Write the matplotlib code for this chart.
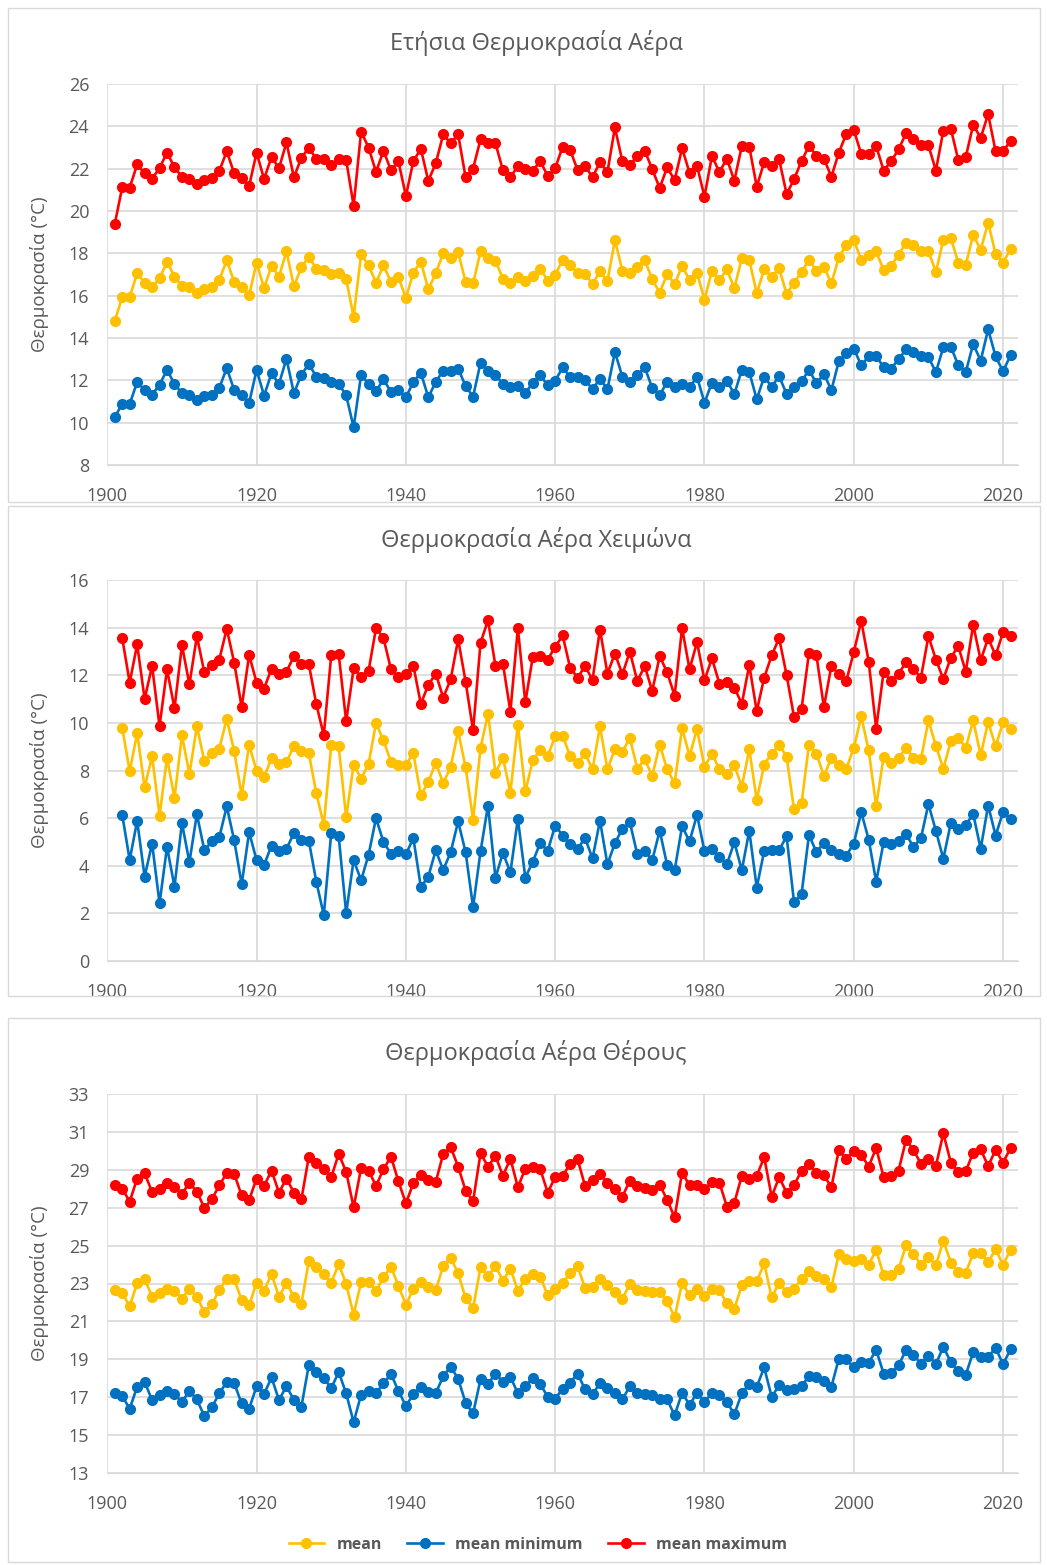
import numpy as np
import matplotlib
matplotlib.use("Agg")
import matplotlib.pyplot as plt
from matplotlib.patches import Rectangle
from matplotlib.lines import Line2D

plt.rcParams["font.family"] = ["Open Sans", "DejaVu Sans"]

# years on the x axis
years = np.arange(1901, 2022)
winter_years = np.arange(1902, 2022)

# annual air temperature (°C)
annual_max = [
    19.39, 21.12, 21.1, 22.2, 21.78, 21.53, 22.03, 22.76, 22.06, 21.62,
    21.53, 21.28, 21.46, 21.56, 21.89, 22.82, 21.78, 21.57, 21.18, 22.76,
    21.51, 22.55, 22.02, 23.24, 21.59, 22.52, 22.98, 22.46, 22.46, 22.17,
    22.44, 22.41, 20.24, 23.75, 23.0, 21.84, 22.85, 21.92, 22.35, 20.71,
    22.35, 22.94, 21.43, 22.25, 23.62, 23.2, 23.62, 21.59, 22.0, 23.39,
    23.2, 23.2, 21.92, 21.59, 22.13, 21.97, 21.91, 22.36, 21.65, 22.02,
    23.04, 22.88, 21.94, 22.13, 21.59, 22.31, 21.84, 23.95, 22.35, 22.16,
    22.6, 22.85, 21.97, 21.09, 22.06, 21.46, 22.96, 21.81, 22.13, 20.68,
    22.6, 21.84, 22.47, 21.43, 23.07, 23.04, 21.15, 22.31, 22.13, 22.44,
    20.8, 21.5, 22.36, 23.07, 22.6, 22.47, 21.62, 22.76, 23.64, 23.83,
    22.69, 22.69, 23.07, 21.91, 22.35, 22.91, 23.67, 23.42, 23.1, 23.1,
    21.91, 23.8, 23.89, 22.41, 22.54, 24.08, 23.45, 24.58, 22.82, 22.82,
    23.32,
]
annual_mean = [
    14.79, 15.95, 15.94, 17.06, 16.61, 16.39, 16.83, 17.59, 16.9, 16.46,
    16.39, 16.11, 16.3, 16.39, 16.74, 17.67, 16.65, 16.43, 16.03, 17.56,
    16.36, 17.4, 16.9, 18.09, 16.44, 17.34, 17.84, 17.28, 17.21, 17.02,
    17.09, 16.77, 15.01, 17.95, 17.43, 16.61, 17.43, 16.65, 16.87, 15.89,
    17.09, 17.61, 16.3, 17.06, 18.0, 17.76, 18.05, 16.65, 16.58, 18.09,
    17.76, 17.65, 16.8, 16.58, 16.9, 16.68, 16.93, 17.28, 16.71, 16.99,
    17.69, 17.43, 17.06, 17.02, 16.55, 17.15, 16.68, 18.63, 17.18, 17.06,
    17.37, 17.69, 16.77, 16.14, 17.02, 16.55, 17.4, 16.74, 17.09, 15.8,
    17.18, 16.74, 17.24, 16.36, 17.76, 17.69, 16.11, 17.24, 16.9, 17.29,
    16.08, 16.61, 17.12, 17.69, 17.18, 17.37, 16.58, 17.81, 18.41, 18.63,
    17.69, 17.94, 18.09, 17.21, 17.4, 17.94, 18.5, 18.38, 18.09, 18.09,
    17.12, 18.63, 18.72, 17.56, 17.46, 18.88, 18.16, 19.45, 17.97, 17.56,
    18.22,
]
annual_min = [
    10.27, 10.88, 10.88, 11.92, 11.54, 11.31, 11.8, 12.49, 11.83, 11.39,
    11.29, 11.07, 11.26, 11.32, 11.64, 12.58, 11.54, 11.32, 10.94, 12.49,
    11.28, 12.33, 11.83, 13.02, 11.39, 12.27, 12.77, 12.17, 12.13, 11.92,
    11.83, 11.29, 9.78, 12.27, 11.83, 11.48, 12.05, 11.45, 11.54, 11.2,
    11.92, 12.36, 11.2, 11.92, 12.46, 12.46, 12.55, 11.73, 11.23, 12.83,
    12.46, 12.25, 11.83, 11.67, 11.73, 11.39, 11.89, 12.24, 11.76, 11.98,
    12.61, 12.17, 12.14, 12.02, 11.58, 12.08, 11.58, 13.34, 12.17, 11.94,
    12.25, 12.61, 11.64, 11.29, 11.94, 11.67, 11.83, 11.67, 12.17, 10.94,
    11.89, 11.67, 11.98, 11.35, 12.49, 12.39, 11.1, 12.17, 11.7, 12.2,
    11.35, 11.7, 11.95, 12.49, 11.86, 12.3, 11.54, 12.9, 13.28, 13.5,
    12.71, 13.13, 13.16, 12.61, 12.55, 13.0, 13.46, 13.34, 13.16, 13.09,
    12.39, 13.56, 13.59, 12.71, 12.39, 13.72, 12.93, 14.41, 13.13, 12.43,
    13.18,
]

# winter air temperature (°C), 1902-2021
winter_max = [
    13.56, 11.69, 13.3, 11.0, 12.39, 9.86, 12.25, 10.61, 13.26, 11.62,
    13.64, 12.12, 12.43, 12.66, 13.95, 12.53, 10.66, 12.85, 11.69, 11.44,
    12.28, 12.04, 12.15, 12.8, 12.49, 12.46, 10.78, 9.48, 12.84,
    12.88, 10.07, 12.29, 11.93, 12.18, 13.98, 13.56, 12.25, 11.93, 12.04,
    12.4, 10.8, 11.59, 12.07, 11.06, 11.83, 13.51, 11.73, 9.68, 13.36,
    14.31, 12.39, 12.49, 10.47, 13.98, 10.86, 12.77, 12.8, 12.66, 13.19,
    13.67, 12.32, 11.9, 12.38, 11.81, 13.92, 12.07, 12.91, 12.04, 12.99,
    11.76, 12.38, 11.34, 12.8, 12.12, 11.14, 13.98, 12.25, 13.39, 11.79,
    12.71, 11.65, 11.73, 11.48, 10.8, 12.43, 10.49, 11.9, 12.83, 13.56,
    12.01, 10.24, 10.58, 12.94, 12.83, 10.66, 12.4, 12.04, 11.76, 12.97,
    14.29, 12.57, 9.76, 12.15, 11.76, 12.07, 12.54, 12.26, 11.9, 13.64,
    12.66, 11.84, 12.74, 13.22, 12.15, 14.12, 12.63, 13.56, 12.83, 13.81,
    13.64,
]
winter_mean = [
    9.79, 7.97, 9.57, 7.29, 8.6, 6.11, 8.53, 6.84, 9.48, 7.85,
    9.86, 8.39, 8.72, 8.92, 10.17, 8.81, 6.96, 9.09, 7.97, 7.71,
    8.53, 8.28, 8.36, 9.02, 8.81, 8.72, 7.04, 5.72, 9.06,
    9.01, 6.03, 8.25, 7.66, 8.28, 9.99, 9.26, 8.36, 8.25, 8.25,
    8.72, 6.96, 7.52, 8.33, 7.46, 8.16, 9.65, 8.13, 5.94, 8.95,
    10.38, 7.91, 8.53, 7.07, 9.93, 7.12, 8.42, 8.87, 8.61, 9.43,
    9.46, 8.6, 8.3, 8.72, 8.05, 9.85, 8.05, 8.89, 8.78, 9.37,
    8.08, 8.47, 7.77, 9.09, 8.05, 7.46, 9.79, 8.61, 9.74, 8.16,
    8.7, 8.05, 7.85, 8.22, 7.32, 8.89, 6.76, 8.25, 8.7, 9.09,
    8.58, 6.37, 6.62, 9.09, 8.7, 7.77, 8.53, 8.25, 8.08, 8.95,
    10.27, 8.84, 6.51, 8.58, 8.3, 8.53, 8.95, 8.53, 8.47, 10.1,
    9.03, 8.08, 9.23, 9.37, 8.95, 10.1, 8.64, 10.04, 9.01, 10.02,
    9.76,
]
winter_min = [
    6.14, 4.24, 5.89, 3.54, 4.93, 2.42, 4.79, 3.12, 5.79, 4.15,
    6.17, 4.65, 5.02, 5.19, 6.49, 5.07, 3.22, 5.41, 4.23, 4.03,
    4.85, 4.62, 4.71, 5.37, 5.07, 5.04, 3.33, 1.93, 5.37,
    5.23, 2.01, 4.24, 3.39, 4.46, 6.0, 4.99, 4.51, 4.62, 4.48,
    5.16, 3.11, 3.54, 4.65, 3.82, 4.57, 5.86, 4.57, 2.26, 4.6,
    6.53, 3.5, 4.54, 3.72, 5.97, 3.5, 4.17, 4.96, 4.62, 5.69,
    5.27, 4.9, 4.71, 5.16, 4.31, 5.89, 4.06, 4.95, 5.55, 5.83,
    4.48, 4.62, 4.23, 5.47, 4.03, 3.81, 5.66, 5.02, 6.14, 4.62,
    4.71, 4.37, 4.06, 4.99, 3.81, 5.47, 3.08, 4.62, 4.68, 4.65,
    5.24, 2.46, 2.8, 5.3, 4.57, 4.96, 4.68, 4.51, 4.43, 4.93,
    6.25, 5.1, 3.33, 4.99, 4.93, 5.04, 5.33, 4.79, 5.16, 6.59,
    5.47, 4.29, 5.8, 5.55, 5.72, 6.17, 4.71, 6.53, 5.27, 6.25,
    5.97,
]

# summer air temperature (°C)
summer_max = [
    28.18, 28.01, 27.32, 28.54, 28.82, 27.83, 28.01, 28.29, 28.11, 27.73,
    28.32, 27.85, 26.99, 27.44, 28.18, 28.82, 28.78, 27.65, 27.41, 28.54,
    28.15, 28.96, 27.8, 28.54, 27.8, 27.44, 29.7, 29.35, 29.06, 28.61,
    29.84, 28.89, 27.02, 29.1, 28.96, 28.15, 29.03, 29.7, 28.39, 27.23,
    28.29, 28.75, 28.46, 28.36, 29.84, 30.19, 29.17, 27.9, 27.34, 29.87,
    29.17, 29.73, 28.68, 29.59, 28.08, 29.06, 29.13, 29.03, 27.8, 28.61,
    28.68, 29.31, 29.56, 28.15, 28.46, 28.78, 28.32, 27.97, 27.58, 28.43,
    28.15, 28.04, 27.94, 28.22, 27.41, 26.49, 28.85, 28.18, 28.18, 27.97,
    28.36, 28.32, 27.06, 27.27, 28.68, 28.54, 28.68, 29.66, 27.58, 28.61,
    27.8, 28.18, 28.96, 29.31, 28.82, 28.71, 28.08, 30.05, 29.59, 29.98,
    29.8, 29.17, 30.15, 28.61, 28.68, 28.96, 30.58, 30.05, 29.31, 29.59,
    29.2, 30.93, 29.38, 28.89, 28.92, 29.91, 30.08, 29.2, 30.05, 29.38,
    30.15,
]
summer_mean = [
    22.65, 22.48, 21.81, 23.01, 23.25, 22.3, 22.51, 22.73, 22.62, 22.2,
    22.73, 22.3, 21.49, 21.92, 22.65, 23.25, 23.22, 22.13, 21.85, 23.04,
    22.62, 23.5, 22.3, 23.04, 22.3, 21.92, 24.2, 23.85, 23.5, 23.04,
    24.03, 22.97, 21.35, 23.08, 23.08, 22.62, 23.32, 23.89, 22.87, 21.88,
    22.73, 23.08, 22.83, 22.65, 23.92, 24.35, 23.54, 22.23, 21.7, 23.85,
    23.39, 23.92, 23.15, 23.78, 22.62, 23.25, 23.5, 23.36, 22.37, 22.73,
    23.04, 23.54, 23.92, 22.76, 22.8, 23.22, 22.9, 22.55, 22.2, 22.97,
    22.65, 22.62, 22.55, 22.55, 22.09, 21.21, 23.04, 22.37, 22.73, 22.34,
    22.73, 22.65, 21.95, 21.67, 22.9, 23.11, 23.11, 24.06, 22.27, 23.04,
    22.55, 22.73, 23.22, 23.68, 23.39, 23.25, 22.8, 24.56, 24.27, 24.2,
    24.27, 23.99, 24.77, 23.43, 23.46, 23.78, 25.01, 24.56, 23.99, 24.42,
    23.96, 25.26, 24.1, 23.61, 23.57, 24.59, 24.63, 24.13, 24.8, 23.99,
    24.77,
]
summer_min = [
    17.2, 17.06, 16.39, 17.55, 17.8, 16.85, 17.09, 17.34, 17.16, 16.74,
    17.34, 16.88, 16.0, 16.46, 17.2, 17.8, 17.73, 16.67, 16.39, 17.58,
    17.16, 18.04, 16.85, 17.58, 16.85, 16.49, 18.71, 18.32, 18.01, 17.48,
    18.32, 17.2, 15.68, 17.13, 17.34, 17.2, 17.73, 18.22, 17.34, 16.53,
    17.16, 17.55, 17.3, 17.2, 18.11, 18.61, 17.97, 16.7, 16.14, 17.94,
    17.69, 18.25, 17.8, 18.08, 17.2, 17.58, 18.01, 17.69, 17.02, 16.92,
    17.44, 17.76, 18.25, 17.41, 17.16, 17.73, 17.51, 17.2, 16.88, 17.58,
    17.2, 17.16, 17.13, 16.88, 16.88, 16.04, 17.23, 16.6, 17.23, 16.74,
    17.23, 17.09, 16.74, 16.11, 17.2, 17.69, 17.55, 18.57, 17.02, 17.62,
    17.37, 17.41, 17.58, 18.11, 18.08, 17.87, 17.55, 19.03, 18.99, 18.57,
    18.85, 18.82, 19.49, 18.25, 18.29, 18.68, 19.49, 19.24, 18.75, 19.2,
    18.75, 19.66, 18.85, 18.36, 18.18, 19.38, 19.13, 19.13, 19.59, 18.75,
    19.52,
]

titles = [
    "Ετήσια Θερμοκρασία Αέρα",
    "Θερμοκρασία Αέρα Χειμώνα",
    "Θερμοκρασία Αέρα Θέρους",
]
ylabel = "Θερμοκρασία (°C)"
series_names = ["mean", "mean minimum", "mean maximum"]

MEAN_C = "#FFC000"
MIN_C = "#0070C0"
MAX_C = "#FF0000"
TEXT_C = "#595959"
GRID_C = "#D9D9D9"

W, H = 1047, 1565


def fx(px):
    return px / W


def fy(py):
    return 1 - py / H


def draw_panel(fig, top, bottom, title_y, x, mean, vmin, vmax, ylim, ystep, title):
    ax = fig.add_axes([fx(107.3), fy(bottom), fx(1018) - fx(107.3), fy(top) - fy(bottom)])
    for vals, c in [(mean, MEAN_C), (vmin, MIN_C), (vmax, MAX_C)]:
        ax.plot(x, vals, color=c, lw=1.9, marker="o", ms=7, zorder=3)
    ax.set_xlim(1900, 2022)
    ax.set_ylim(*ylim)
    ax.set_xticks(np.arange(1900, 2021, 20))
    ax.set_yticks(np.arange(ylim[0], ylim[1] + 0.1, ystep))
    ax.grid(True, color=GRID_C, lw=1.2, zorder=0)
    for s in ["left", "right", "top"]:
        ax.spines[s].set_visible(False)
    ax.spines["bottom"].set_color(GRID_C)
    ax.tick_params(length=0, colors=TEXT_C, labelsize=13)
    ax.tick_params(axis="y", pad=13)
    ax.tick_params(axis="x", pad=16)
    ax.set_ylabel(ylabel, color=TEXT_C, fontsize=13.5)
    ax.yaxis.set_label_coords(-0.064, 0.5)
    fig.text(fx(536), fy(title_y), title, color=TEXT_C, fontsize=17,
             ha="center", va="center")
    return ax


fig = plt.figure(figsize=(W / 100, H / 100), dpi=100)

# chart borders
for (x0, y0, x1, y1) in [(8, 8, 1040, 502), (8, 506, 1040, 996), (8, 1018, 1040, 1562)]:
    fig.patches.append(Rectangle((fx(x0), fy(y1)), fx(x1) - fx(x0), fy(y0) - fy(y1),
                                 transform=fig.transFigure, fill=False,
                                 edgecolor=GRID_C, lw=1.0))

draw_panel(fig, 84, 465, 43, years, annual_mean, annual_min, annual_max, (8, 26), 2, titles[0])
draw_panel(fig, 580, 961, 540, winter_years, winter_mean, winter_min, winter_max, (0, 16), 2, titles[1])
draw_panel(fig, 1094, 1473, 1053, years, summer_mean, summer_min, summer_max, (13, 33), 2, titles[2])

handles = [Line2D([], [], color=c, lw=1.9, marker="o", ms=7) for c in (MEAN_C, MIN_C, MAX_C)]
leg = fig.legend(handles, series_names, loc="center", bbox_to_anchor=(fx(538), fy(1545)),
                 ncol=3, frameon=False, fontsize=11.5, handlelength=2.2, columnspacing=1.6)
for t in leg.get_texts():
    t.set_color(TEXT_C)
    t.set_fontweight("bold")

fig.savefig("out.png", dpi=100)
